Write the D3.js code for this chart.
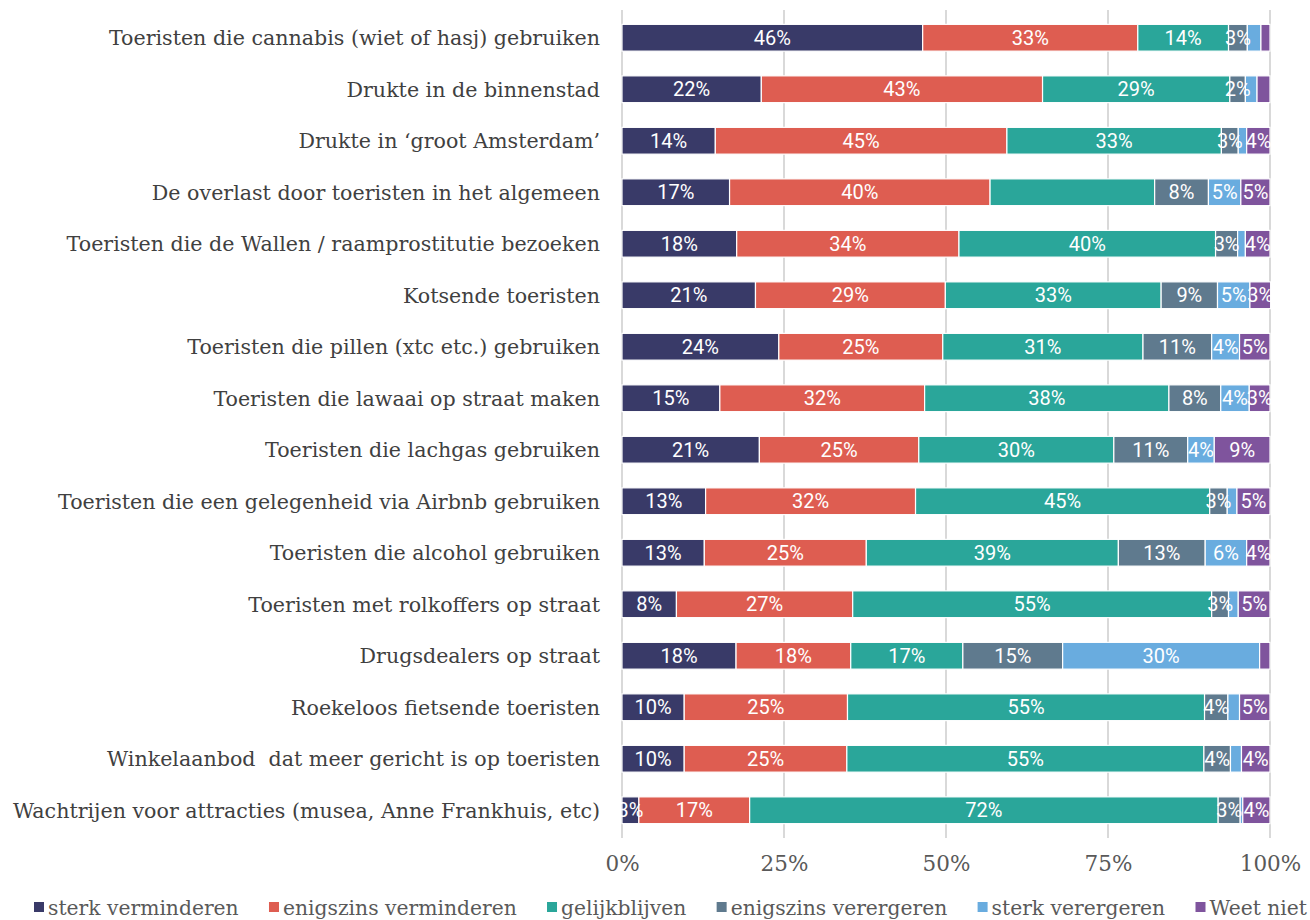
<!DOCTYPE html>
<html><head><meta charset="utf-8">
<script src="https://cdn.jsdelivr.net/npm/d3@7"></script>
<style>body{margin:0;background:#fff}</style>
</head><body>
<svg id="chart" width="1310" height="920"></svg>
<script>
const categories = [
  "Toeristen die cannabis (wiet of hasj) gebruiken",
  "Drukte in de binnenstad",
  "Drukte in \u2018groot Amsterdam\u2019",
  "De overlast door toeristen in het algemeen",
  "Toeristen die de Wallen / raamprostitutie bezoeken",
  "Kotsende toeristen",
  "Toeristen die pillen (xtc etc.) gebruiken",
  "Toeristen die lawaai op straat maken",
  "Toeristen die lachgas gebruiken",
  "Toeristen die een gelegenheid via Airbnb gebruiken",
  "Toeristen die alcohol gebruiken",
  "Toeristen met rolkoffers op straat",
  "Drugsdealers op straat",
  "Roekeloos fietsende toeristen",
  "Winkelaanbod  dat meer gericht is op toeristen",
  "Wachtrijen voor attracties (musea, Anne Frankhuis, etc)"
];
const seriesNames = ["sterk verminderen","enigszins verminderen","gelijkblijven","enigszins verergeren","sterk verergeren","Weet niet"];
const sterkVerminderen     = [46.4,21.5,14.4,16.6,17.7,20.6,24.2,15.1,21.2,12.9,12.7, 8.4,17.6, 9.6, 9.6, 2.6];
const enigszinsVerminderen = [33.2,43.4,45.0,40.2,34.3,29.3,25.3,31.6,24.6,32.4,25.0,27.2,17.7,25.2,25.1,17.1];
const gelijkblijven        = [14.0,28.9,33.1,25.4,39.6,33.3,30.9,37.7,30.1,45.4,38.9,55.4,17.3,55.1,55.1,72.3];
const enigszinsVerergeren  = [ 2.9, 2.4, 2.6, 8.3, 3.4, 8.7,10.6, 8.0,11.4, 2.7,13.4, 2.6,15.4, 3.6, 4.1, 3.4];
const sterkVerergeren      = [ 2.1, 1.8, 1.3, 5.0, 1.2, 5.0, 4.3, 4.4, 4.1, 1.5, 6.4, 1.5,30.4, 1.8, 1.7, 0.4];
const weetNiet             = [ 1.4, 2.0, 3.6, 4.5, 3.8, 3.2, 4.7, 3.2, 8.6, 5.1, 3.6, 4.9, 1.6, 4.7, 4.4, 4.2];
const xTicks = [0, 25, 50, 75, 100];
const xTickLabels = ["0%","25%","50%","75%","100%"];
const omittedLabels = [["De overlast door toeristen in het algemeen","gelijkblijven"]];
const colors = ["#393a68","#de5d51","#2aa69a","#5f7a8e","#69acdf","#7f549d"];

const allSeries = [sterkVerminderen,enigszinsVerminderen,gelijkblijven,enigszinsVerergeren,sterkVerergeren,weetNiet];
const rows = categories.map((c,i)=>{const r={cat:c}; seriesNames.forEach((s,k)=>r[s]=allSeries[k][i]); return r;});
const stack = d3.stack().keys(seriesNames)(rows);

const svg = d3.select("#chart");
const x = d3.scaleLinear().domain([0,100]).range([622,1270]);
const y = d3.scaleBand().domain(categories).range([12,836]).paddingInner(0.48).paddingOuter(0.24);

// gridlines
svg.append("g").selectAll("line").data(xTicks).join("line")
  .attr("x1",d=>x(d)).attr("x2",d=>x(d)).attr("y1",10).attr("y2",838)
  .attr("stroke","#d9d9d9").attr("stroke-width",2);

// bars
const g = svg.append("g");
stack.forEach((layer,k)=>{
  g.append("g").selectAll("rect").data(layer).join("rect")
    .attr("x",d=>x(d[0])).attr("width",d=>x(d[1])-x(d[0]))
    .attr("y",d=>y(d.data.cat)).attr("height",y.bandwidth())
    .attr("fill",colors[k]).attr("stroke","#fff").attr("stroke-width",1.2);
});
stack.forEach((layer,k)=>{
  const key = seriesNames[k];
  g.append("g").selectAll("text").data(layer.filter(d=>(d[1]-d[0])>=2.2 && !omittedLabels.some(o=>o[0]===d.data.cat&&o[1]===key))).join("text")
    .attr("x",d=>x((d[0]+d[1])/2)).attr("y",d=>y(d.data.cat)+y.bandwidth()/2)
    .attr("dy","0.36em").attr("text-anchor","middle")
    .attr("fill","#fff").attr("font-family","Roboto, sans-serif").attr("font-size",20)
    .text(d=>Math.round(d[1]-d[0])+"%");
});

// category labels
svg.append("g").selectAll("text").data(categories).join("text")
  .attr("x",600).attr("y",d=>y(d)+y.bandwidth()/2).attr("dy","0.36em")
  .attr("text-anchor","end").attr("fill","#404040").style("white-space","pre")
  .attr("font-family","'DejaVu Serif', serif").attr("font-size",20.6)
  .text(d=>d);

// x axis
const xAxis = d3.axisBottom(x).tickValues(xTicks).tickFormat((d,i)=>xTickLabels[i]).tickSize(0);
const ax = svg.append("g").attr("transform","translate(0,853)").call(xAxis);
ax.select(".domain").remove();
ax.selectAll("text").attr("fill","#595959").attr("font-family","'DejaVu Serif', serif").attr("font-size",21.5).attr("dy","0.71em");

// legend
const leg = svg.append("g").attr("font-family","'DejaVu Serif', serif").attr("font-size",20.3);
const items = seriesNames.map((s,k)=>{
  const it = leg.append("g");
  it.append("rect").attr("y",902).attr("width",10).attr("height",10).attr("fill",colors[k]);
  const t = it.append("text").attr("y",915).attr("fill","#595959").text(s);
  return {it, w: 14 + t.node().getComputedTextLength()};
});
const legStart = 34, legEnd = 1307;
const totalW = d3.sum(items, d=>d.w);
const gap = (legEnd - legStart - totalW) / (items.length - 1);
let lx = legStart;
items.forEach(d=>{
  d.it.select("rect").attr("x",lx);
  d.it.select("text").attr("x",lx+14);
  lx += d.w + gap;
});
</script>
</body></html>
